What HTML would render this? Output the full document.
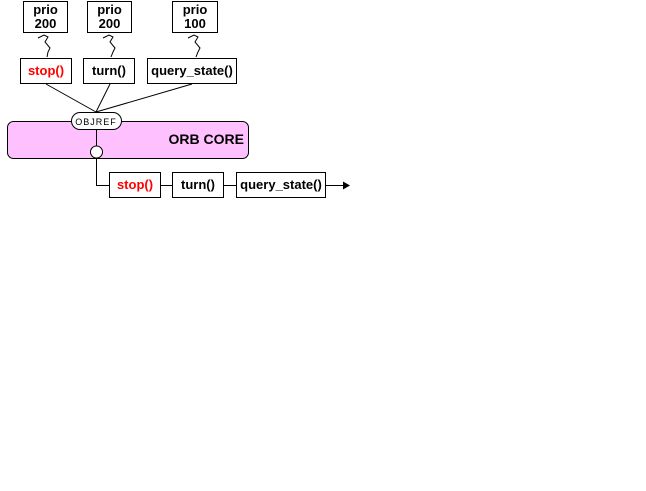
<!DOCTYPE html>
<html><head><meta charset="utf-8"><style>
html,body{margin:0;padding:0;background:#fff;width:646px;height:491px;overflow:hidden}
text{font-family:"Liberation Sans",Arial,sans-serif;font-weight:bold;font-size:13px}
</style></head><body>
<svg width="646" height="491" viewBox="0 0 646 491" xmlns="http://www.w3.org/2000/svg">
<g fill="#fff" stroke="#000" stroke-width="1">
<rect x="23.5" y="1.5" width="44" height="31"/>
<rect x="87.5" y="1.5" width="44" height="31"/>
<rect x="172.5" y="1.5" width="45" height="31"/>
<rect x="20.5" y="58.5" width="51" height="25"/>
<rect x="83.5" y="58.5" width="51" height="25"/>
<rect x="147.5" y="58.5" width="89" height="25"/>
</g>
<g fill="none" stroke="#000" stroke-width="1">
<path d="M38,38 L44,35 L48,37 L45,42 L50,48 L48,52 L47,57"/>
<path d="M103,38 L109,35 L113,37 L110,42 L115,48 L113,52 L111,57"/>
<path d="M188,38 L194,35 L198,37 L195,42 L200,48 L198,52 L196,57"/>
<line x1="46" y1="84" x2="96" y2="112"/>
<line x1="110" y1="84" x2="96" y2="112"/>
<line x1="192" y1="84" x2="96" y2="112"/>
</g>
<rect x="7.5" y="121.5" width="241" height="37" rx="6" fill="#ffc0ff" stroke="#000"/>
<rect x="71.5" y="112.5" width="50" height="17" rx="8.5" fill="#fff" stroke="#000"/>
<text x="96" y="125" text-anchor="middle" style="font-weight:normal;font-size:9px;letter-spacing:1px">OBJREF</text>
<text x="244" y="144" text-anchor="end" style="font-size:14px">ORB CORE</text>
<line x1="96.5" y1="129" x2="96.5" y2="146" stroke="#000"/>
<circle cx="96.5" cy="152" r="6" fill="#fff" stroke="#000"/>
<path d="M96.5,158 V185.5 H109" fill="none" stroke="#000"/>
<g fill="#fff" stroke="#000">
<rect x="109.5" y="172.5" width="51" height="25"/>
<rect x="172.5" y="172.5" width="51" height="25"/>
<rect x="236.5" y="172.5" width="89" height="25"/>
</g>
<line x1="160" y1="185.5" x2="172" y2="185.5" stroke="#000"/>
<line x1="223" y1="185.5" x2="236" y2="185.5" stroke="#000"/>
<line x1="326" y1="185.5" x2="344" y2="185.5" stroke="#000"/>
<path d="M343,181.5 L350,185.5 L343,189.5Z" fill="#000"/>
<g text-anchor="middle">
<text x="45.5" y="14">prio</text><text x="45.5" y="28">200</text>
<text x="109.5" y="14">prio</text><text x="109.5" y="28">200</text>
<text x="195" y="14">prio</text><text x="195" y="28">100</text>
<text x="46" y="75" fill="#ff0000">stop()</text>
<text x="109" y="75">turn()</text>
<text x="192" y="75">query_state()</text>
<text x="135" y="189" fill="#ff0000">stop()</text>
<text x="198" y="189">turn()</text>
<text x="281" y="189">query_state()</text>
</g>
</svg>
</body></html>
